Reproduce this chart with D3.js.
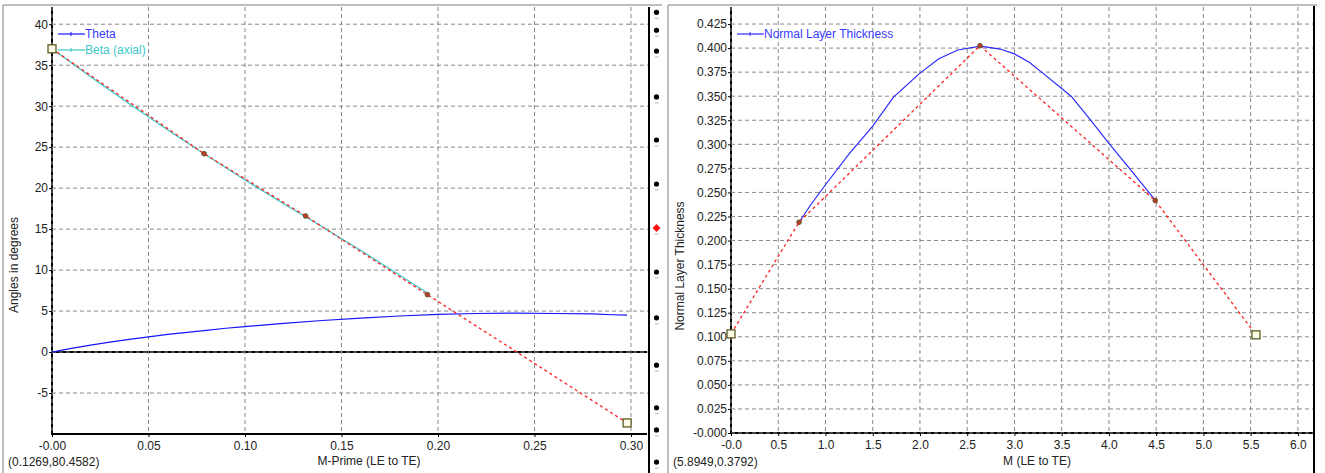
<!DOCTYPE html>
<html>
<head>
<meta charset="utf-8">
<script src="https://cdn.jsdelivr.net/npm/d3@7/dist/d3.min.js"></script>
<style>
body { margin: 0; background: #fff; }
svg text { font-family: "Liberation Sans", Arial, sans-serif; font-size: 12px; fill: #222; }
</style>
</head>
<body>
<div id="vis"></div>
<script>
// ---- left chart: angles vs m-prime
var mPrime = [0, 0.01, 0.02, 0.03, 0.04, 0.05, 0.06, 0.07, 0.08, 0.09, 0.10, 0.12, 0.14, 0.16, 0.18, 0.20, 0.22, 0.24, 0.26, 0.28, 0.29, 0.298];
var theta = [0, 0.45, 0.85, 1.2, 1.55, 1.85, 2.15, 2.4, 2.65, 2.9, 3.1, 3.5, 3.85, 4.15, 4.4, 4.6, 4.7, 4.75, 4.7, 4.65, 4.55, 4.5];
var betaM = [0, 0.02, 0.04, 0.06, 0.08, 0.10, 0.12, 0.14, 0.16, 0.18, 0.196];
var beta = [37, 33.6, 30.3, 27.1, 24.0, 21.0, 18.1, 15.3, 12.4, 9.4, 7.0];
var leftCtrlM = [0, 0.0788, 0.1314, 0.1945, 0.298];
var leftCtrlAngle = [37, 24.2, 16.6, 7.0, -8.65];
var leftXTicks = [0, 0.05, 0.10, 0.15, 0.20, 0.25, 0.30];
var leftXTickLabels = ["-0.00", "0.05", "0.10", "0.15", "0.20", "0.25", "0.30"];
var leftYTicks = [-5, 0, 5, 10, 15, 20, 25, 30, 35, 40];
var leftYTickLabels = ["-5", "0", "5", "10", "15", "20", "25", "30", "35", "40"];
var leftSeries = ["Theta", "Beta (axial)"];

// ---- right chart: normal layer thickness vs m
var mThick = [0.72, 0.85, 1.0, 1.25, 1.5, 1.72, 2.0, 2.2, 2.4, 2.64, 2.85, 3.0, 3.16, 3.3, 3.5, 3.6, 3.8, 4.0, 4.2, 4.49];
var thickness = [0.219, 0.238, 0.258, 0.290, 0.319, 0.349, 0.374, 0.389, 0.398, 0.402, 0.399, 0.394, 0.385, 0.374, 0.358, 0.350, 0.326, 0.301, 0.277, 0.242];
var rightCtrlM = [0, 0.72, 2.635, 4.49, 5.556];
var rightCtrlT = [0.103, 0.219, 0.4025, 0.2416, 0.102];
var rightXTicks = [0, 0.5, 1.0, 1.5, 2.0, 2.5, 3.0, 3.5, 4.0, 4.5, 5.0, 5.5, 6.0];
var rightXTickLabels = ["-0.0", "0.5", "1.0", "1.5", "2.0", "2.5", "3.0", "3.5", "4.0", "4.5", "5.0", "5.5", "6.0"];
var rightYTicks = [0, 0.025, 0.05, 0.075, 0.1, 0.125, 0.15, 0.175, 0.2, 0.225, 0.25, 0.275, 0.3, 0.325, 0.35, 0.375, 0.4, 0.425];
var rightYTickLabels = ["-0.000", "0.025", "0.050", "0.075", "0.100", "0.125", "0.150", "0.175", "0.200", "0.225", "0.250", "0.275", "0.300", "0.325", "0.350", "0.375", "0.400", "0.425"];
var rightSeries = ["Normal Layer Thickness"];

var cursorText = ["(0.1269,80.4582)", "(5.8949,0.3792)"];
// splitter handle dots (fraction of window height), the red one is the grip
var splitterMarks = [0.026, 0.064, 0.108, 0.205, 0.296, 0.389, 0.482, 0.575, 0.672, 0.772, 0.862, 0.909, 0.977];
var splitterGrip = 6;

var W = 1325, H = 473;
var svg = d3.select("#vis").append("svg")
	.attr("width", W)
	.attr("height", H);

var gridColor = "#8a8a8a";

function drawPanel(p){
	var g = svg.append("g");

	// gray frame of the panel
	g.append("line").attr("x1", p.frameX).attr("x2", p.frameX).attr("y1", 5).attr("y2", H)
		.attr("stroke", "#a8a8a8").attr("stroke-width", 1.5);
	g.append("line").attr("x1", p.frameX).attr("x2", p.frameEnd).attr("y1", 5).attr("y2", 5)
		.attr("stroke", "#a8a8a8").attr("stroke-width", 1.5);

	var x = d3.scaleLinear().domain(p.xDomain).range([p.left, p.right]);
	var y = d3.scaleLinear().domain(p.yDomain).range([p.bottom, p.top]);

	// axis lines (black, thick)
	g.append("line").attr("x1", p.left).attr("x2", p.left).attr("y1", p.top).attr("y2", p.bottom + 1)
		.attr("stroke", "#000").attr("stroke-width", 2);
	g.append("line").attr("x1", p.left).attr("x2", p.right).attr("y1", p.bottom).attr("y2", p.bottom)
		.attr("stroke", "#000").attr("stroke-width", 2);
	if (p.zeroLine) {
		g.append("line").attr("x1", p.left).attr("x2", p.right).attr("y1", y(0)).attr("y2", y(0))
			.attr("stroke", "#000").attr("stroke-width", 2);
	}

	// grid
	g.append("g").selectAll("line").data(p.xTicks)
		.enter().append("line")
			.attr("x1", function(d){ return x(d); })
			.attr("x2", function(d){ return x(d); })
			.attr("y1", p.top)
			.attr("y2", p.bottom)
			.attr("stroke", gridColor)
			.attr("stroke-dasharray", "4,3");
	g.append("g").selectAll("line").data(p.yTicks)
		.enter().append("line")
			.attr("x1", p.left)
			.attr("x2", p.gridEnd)
			.attr("y1", function(d){ return y(d); })
			.attr("y2", function(d){ return y(d); })
			.attr("stroke", gridColor)
			.attr("stroke-dasharray", "4,3");

	// axes
	var ax = g.append("g")
		.attr("transform", "translate(0," + p.bottom + ")")
		.call(d3.axisBottom(x).tickValues(p.xTicks)
			.tickFormat(function(d,i){ return p.xLabels[i]; })
			.tickSize(3).tickPadding(4));
	var ay = g.append("g")
		.attr("transform", "translate(" + p.left + ",0)")
		.call(d3.axisLeft(y).tickValues(p.yTicks)
			.tickFormat(function(d,i){ return p.yLabels[i]; })
			.tickSize(3).tickPadding(1));
	[ax, ay].forEach(function(a){
		a.select(".domain").remove();
		a.selectAll(".tick line").attr("stroke", "#000");
		a.selectAll("text").attr("font-family", null).attr("font-size", null).attr("fill", null);
	});

	// titles
	g.append("text")
		.attr("x", p.xTitleX).attr("y", 465)
		.attr("text-anchor", "middle")
		.text(p.xTitle);
	g.append("text")
		.attr("transform", "translate(" + p.yTitleX + "," + p.yTitleY + ") rotate(-90)")
		.attr("text-anchor", "middle")
		.attr("dy", "0.35em")
		.text(p.yTitle);
	g.append("text")
		.attr("x", p.frameX + 5).attr("y", 466)
		.text(p.cursor);

	p.x = x; p.y = y; p.g = g;
	return p;
}

function drawControl(p, xs, ys){
	var pts = xs.map(function(d,i){ return [d, ys[i]]; });
	var line = d3.line().x(function(d){ return p.x(d[0]); }).y(function(d){ return p.y(d[1]); });
	p.g.append("path")
		.attr("d", line(pts))
		.attr("fill", "none")
		.attr("stroke", "#ff2020")
		.attr("stroke-width", 1.3)
		.attr("stroke-dasharray", "3,3");
	var inner = pts.slice(1, pts.length - 1);
	p.g.selectAll(".ctrl-pt").data(inner)
		.enter().append("circle")
			.attr("class", "ctrl-pt")
			.attr("cx", function(d){ return p.x(d[0]); })
			.attr("cy", function(d){ return p.y(d[1]); })
			.attr("r", 2.3)
			.attr("fill", "#c0392b")
			.attr("stroke", "#5a5a2a")
			.attr("stroke-width", 1);
	var ends = [pts[0], pts[pts.length - 1]];
	p.g.selectAll(".ctrl-end").data(ends)
		.enter().append("rect")
			.attr("class", "ctrl-end")
			.attr("x", function(d){ return p.x(d[0]) - 4; })
			.attr("y", function(d){ return p.y(d[1]) - 4; })
			.attr("width", 8)
			.attr("height", 8)
			.attr("fill", "#fbfbe6")
			.attr("stroke", "#5b5b22")
			.attr("stroke-width", 1.3);
}

function drawSeries(p, xs, ys, color){
	var line = d3.line()
		.x(function(d,i){ return p.x(xs[i]); })
		.y(function(d){ return p.y(d); });
	p.g.append("path")
		.attr("d", line(ys))
		.attr("fill", "none")
		.attr("stroke", color)
		.attr("stroke-width", 1.2);
}

function drawLegend(p, names, colors, textColors, x0, y0){
	names.forEach(function(name, i){
		var yy = y0 + i * 16;
		p.g.append("line").attr("x1", x0).attr("x2", x0 + 27).attr("y1", yy).attr("y2", yy)
			.attr("stroke", colors[i]).attr("stroke-width", 1.2);
		p.g.append("line").attr("x1", x0 + 13).attr("x2", x0 + 13).attr("y1", yy - 2).attr("y2", yy + 2)
			.attr("stroke", colors[i]).attr("stroke-width", 1);
		p.g.append("text").attr("x", x0 + 27).attr("y", yy).attr("dy", "0.35em")
			.style("fill", textColors[i])
			.text(name);
	});
}

// ---- left panel
var left = drawPanel({
	frameX: 3, frameEnd: 662,
	left: 52, right: 647, top: 7, bottom: 434, gridEnd: 649,
	xDomain: [0, 0.3083], yDomain: [-10, 42.1],
	xTicks: leftXTicks, xLabels: leftXTickLabels,
	yTicks: leftYTicks, yLabels: leftYTickLabels,
	zeroLine: true,
	xTitle: "M-Prime (LE to TE)", xTitleX: 369,
	yTitle: "Angles in degrees", yTitleX: 14, yTitleY: 265,
	cursor: cursorText[0]
});
drawSeries(left, mPrime, theta, "#1515ff");
drawSeries(left, betaM, beta, "#3cc8c8");
drawControl(left, leftCtrlM, leftCtrlAngle);
drawLegend(left, leftSeries, ["#1515ff", "#3cc8c8"], ["#3a3aff", "#3cc8c8"], 58, 34);

// ---- right panel
var right = drawPanel({
	frameX: 668, frameEnd: 1317,
	left: 731, right: 1313, top: 7, bottom: 433, gridEnd: 1313,
	xDomain: [0, 6.16], yDomain: [0, 0.4427],
	xTicks: rightXTicks, xLabels: rightXTickLabels,
	yTicks: rightYTicks, yLabels: rightYTickLabels,
	zeroLine: false,
	xTitle: "M (LE to TE)", xTitleX: 1037,
	yTitle: "Normal Layer Thickness", yTitleX: 680, yTitleY: 266,
	cursor: cursorText[1]
});
drawSeries(right, mThick, thickness, "#2a2aff");
drawControl(right, rightCtrlM, rightCtrlT);
drawLegend(right, rightSeries, ["#2a2aff"], ["#3a3aff"], 737, 34);

// black separators (full height)
svg.append("line").attr("x1", 649).attr("x2", 649).attr("y1", 7).attr("y2", H)
	.attr("stroke", "#000").attr("stroke-width", 2);
svg.append("line").attr("x1", 1314).attr("x2", 1314).attr("y1", 6).attr("y2", H)
	.attr("stroke", "#000").attr("stroke-width", 2);

// splitter handle
var sy = d3.scaleLinear().domain([0, 1]).range([0, H]);
var marks = svg.append("g");
marks.selectAll(".dash").data(splitterMarks)
	.enter().append("line")
		.attr("x1", 655).attr("x2", 658.5)
		.attr("y1", function(d){ return sy(d) + 6; })
		.attr("y2", function(d){ return sy(d) + 6; })
		.attr("stroke", "#b0b0b0");
marks.selectAll(".dot").data(splitterMarks)
	.enter().append("path")
		.attr("d", function(d,i){
			var cy = sy(d);
			if (i === splitterGrip) return "M656.5," + (cy - 4) + "L660.5," + cy + "L656.5," + (cy + 4) + "L652.5," + cy + "Z";
			return d3.arc()({ innerRadius: 0, outerRadius: 2.6, startAngle: 0, endAngle: 2 * Math.PI });
		})
		.attr("transform", function(d,i){ return i === splitterGrip ? null : "translate(656.5," + sy(d) + ")"; })
		.attr("fill", function(d,i){ return i === splitterGrip ? "#ff1010" : "#000"; });
</script>
</body>
</html>
